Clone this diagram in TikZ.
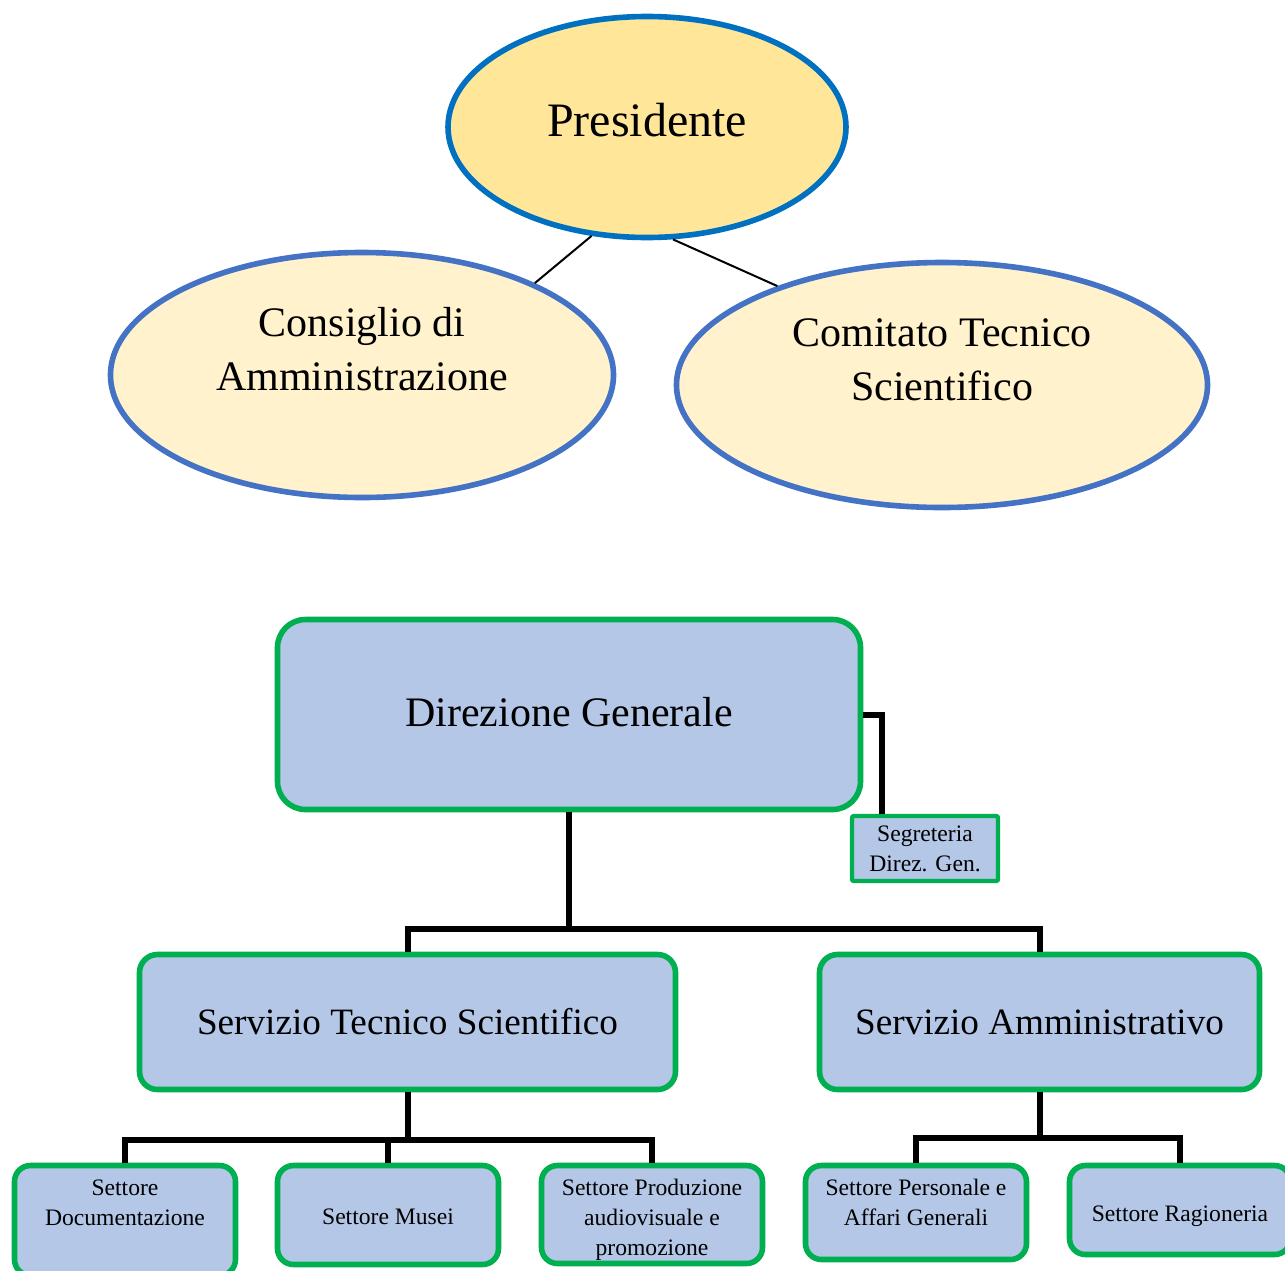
\documentclass[tikz,border=0pt]{standalone}
\usepackage{fontspec}
\setmainfont{Liberation Serif}
\usepackage{xcolor}
\usepackage{tikz}
\usetikzlibrary{shapes,backgrounds,calc}

\definecolor{presfill}{HTML}{FFE699}
\definecolor{presline}{HTML}{0070C0}
\definecolor{organfill}{HTML}{FFF2CC}
\definecolor{organline}{HTML}{4472C4}
\definecolor{officefill}{HTML}{B4C7E7}
\definecolor{officeline}{HTML}{00B050}

\begin{document}
\begin{tikzpicture}[x=0.5pt,y=-0.5pt]
            \tikzstyle{organ}=[ellipse, draw=organline, fill=organfill, line width=2.8pt, inner sep=0pt];
            \tikzstyle{office}=[rectangle, draw=officeline, fill=officefill, line width=2.8pt, inner sep=0pt];
            \tikzstyle{sector}=[office, minimum width=110.5pt, rounded corners=8pt];
            \tikzstyle{link}=[line width=3pt, black];
            \tikzstyle{bigtext}=[align=center, inner sep=0pt, font=\fontsize{21pt}{27pt}\selectfont];
            \tikzstyle{midtext}=[align=center, inner sep=0pt, font=\fontsize{18.6pt}{23pt}\selectfont];
            \tikzstyle{smalltext}=[align=center, inner sep=0pt, font=\fontsize{11.8pt}{15pt}\selectfont];

            % Page frame
            \clip (0,0) rectangle (1285,1270);
            \fill[white] (0,0) rectangle (1285,1270);

            % Governing bodies
            \node[organ, draw=presline, fill=presfill, minimum width=199pt, minimum height=110.5pt] (pres) at (647,127) {};
            \node[organ, minimum width=251.5pt, minimum height=122.5pt] (cons) at (362,375) {};
            \node[organ, minimum width=265.5pt, minimum height=122.5pt] (com) at (942,385) {};
            \node[align=center, inner sep=0pt, font=\fontsize{24pt}{29pt}\selectfont] (pres-txt) at (647,120) {Presidente};
            \node[bigtext] (cons-txt) at (362,349) {Consiglio di\\Amministrazione};
            \node[bigtext] (com-txt) at (942,360) {Comitato Tecnico\\Scientifico};

            % Thin links between the bodies
            \draw[line width=1pt] (pres.243) -- (cons.28);
            \draw[line width=1pt] (pres.283) -- (com.149);

            % Management
            \node[office, minimum width=291.5pt, minimum height=95pt, rounded corners=14pt] (dir) at (569,714.5) {};
            \node[office, line width=2.2pt, minimum width=73pt, minimum height=32.5pt, rounded corners=1pt] (seg) at (925,848.5) {};
            \node[bigtext] (dir-txt) at (569,712) {Direzione Generale};
            \node[smalltext] (seg-txt) at (925,849) {Segreteria\\Direz. Gen.};

            % Services
            \node[office, minimum width=268pt, minimum height=67.5pt, rounded corners=9pt] (sts) at (407.5,1022) {};
            \node[office, minimum width=220pt, minimum height=67.5pt, rounded corners=9pt] (sa) at (1039.5,1022) {};
            \node[midtext] (sts-txt) at (407.5,1022) {Servizio Tecnico Scientifico};
            \node[midtext] (sa-txt) at (1039.5,1022) {Servizio Amministrativo};

            % Sectors
            \node[sector, minimum height=55pt] (doc) at (125,1220.5) {};
            \node[sector, minimum height=49.5pt] (mus) at (388,1215) {};
            \node[sector, minimum height=49pt] (prod) at (652,1214.5) {};
            \node[sector, minimum height=47pt] (pers) at (916,1212.5) {};
            \node[sector, minimum height=44.5pt] (rag) at (1180,1210) {};
            \node[smalltext] (doc-txt) at (125,1203) {Settore\\Documentazione};
            \node[smalltext] (mus-txt) at (388,1217) {Settore Musei};
            \node[smalltext] (prod-txt) at (652,1220) {Settore Produzione\\audiovisuale e\\promozione};
            \node[smalltext] (pers-txt) at (916,1202) {Settore Personale e\\Affari Generali};
            \node[smalltext] (rag-txt) at (1180,1216) {Settore Ragioneria};

            % Branch points
            \coordinate (busdir) at (569,929);
            \coordinate (bussts) at (407.5,1140);
            \coordinate (bussa) at (1039.5,1138);

            % Connectors
            \draw[link] (dir.east) -| ([xshift=16pt]seg.north west);
            \draw[link] (dir.south) -- (busdir);
            \draw[link] (sts.north) |- (busdir) -| (sa.north);
            \draw[link] (sts.south) -- (bussts);
            \draw[link] (doc.north) |- (bussts) -| (prod.north);
            \draw[link] (mus.north) -- (mus.north |- bussts);
            \draw[link] (sa.south) -- (bussa);
            \draw[link] (pers.north) |- (bussa) -| (rag.north);
        \end{tikzpicture}
\end{document}
